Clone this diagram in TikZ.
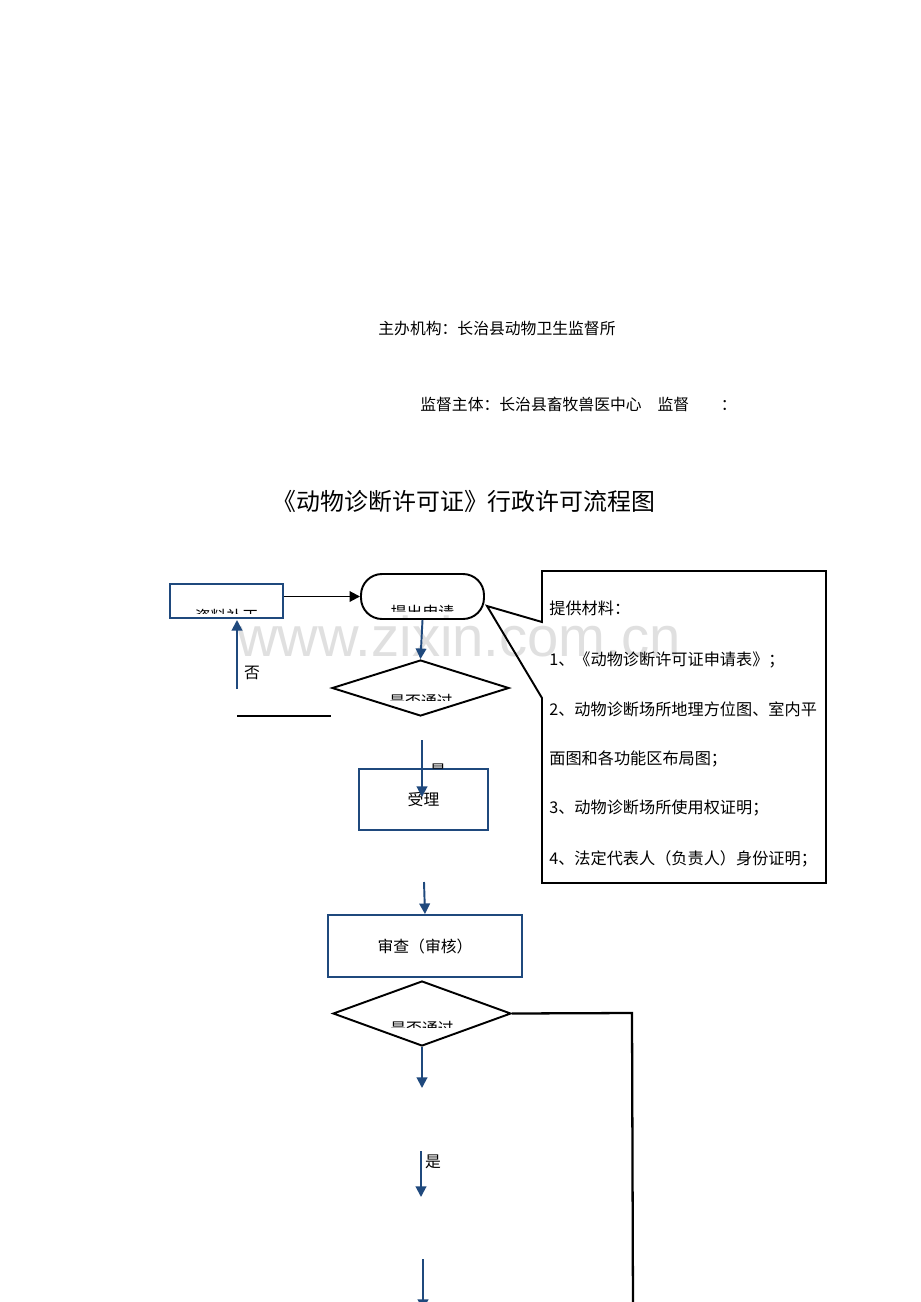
\documentclass[tikz,border=0pt]{standalone}
\usepackage{fontspec}
\setmainfont{Noto Sans CJK SC}
\newfontfamily\wmfont{Liberation Sans}
\usetikzlibrary{shapes.geometric,arrows.meta}
\definecolor{flowblue}{RGB}{31,73,125}
\definecolor{wmgray}{RGB}{224,224,224}
\tikzset{
  bluebox/.style={rectangle, draw=flowblue, line width=1.1pt, inner sep=0pt},
  decide/.style={diamond, draw, line width=1.1pt, inner sep=0pt},
  bluearrow/.style={draw=flowblue, line width=1.1pt, -{Triangle[length=6pt,width=6pt]}},
  blackarrow/.style={draw, line width=1.1pt, -{Triangle[length=6pt,width=6pt]}},
  txt/.style={font=\fontsize{9}{11}\selectfont, inner sep=0pt}
}
\begin{document}
\begin{tikzpicture}[x=0.02cm, y=-0.02cm]
  \useasboundingbox[fill=white] (0,0) rectangle (920,1302);
  % watermark
  \node (wm) at (459,636) [text=wmgray, font=\wmfont\fontsize{32}{32}\selectfont] {www.zixin.com.cn};
  \node (zb) at (497,329) [txt] {主办机构：长治县动物卫生监督所};
  \node (jd) at (420,404) [txt, anchor=west] {监督主体：长治县畜牧兽医中心\quad 监督\qquad ：};
  \node (title) at (464,501) [font=\fontsize{13.6}{16}\selectfont] {《动物诊断许可证》行政许可流程图};
  \node (zlbz) at (226.5,601) [bluebox, minimum width=2.26cm, minimum height=0.68cm] {};
  \node (tc) at (422.5,596.5) [draw, line width=1.1pt, rounded corners=0.42cm,
    minimum width=2.46cm, minimum height=0.9cm, inner sep=0pt] {};
  \node (dec1) at (420.5,688) [decide, minimum width=3.54cm, minimum height=1.12cm] {};
  \node (sl) at (423.5,799.5) [bluebox, minimum width=2.58cm, minimum height=1.22cm] {};
  \node (sc) at (425,946) [bluebox, minimum width=3.88cm, minimum height=1.24cm] {};
  \node (dec2) at (422,1013.5) [decide, minimum width=3.56cm, minimum height=1.3cm] {};
  \node at (sl) [txt] {受理};
  \node at (sc) [txt] {审查（审核）};
  % cut-off labels
  \begin{scope}
    \clip (172,586) rectangle (281,613);
    \node (zlbzt) at (226.5,616) [txt] {资料补正};
  \end{scope}
  \begin{scope}
    \clip (370,580) rectangle (475,611);
    \node (tct) at (422.5,612) [txt] {提出申请};
  \end{scope}
  \begin{scope}
    \clip (360,670) rectangle (480,700);
    \node (dec1t) at (421,702) [txt] {是否通过};
  \end{scope}
  \begin{scope}
    \clip (360,995) rectangle (480,1027);
    \node (dec2t) at (422,1029) [txt] {是否通过};
  \end{scope}
  \begin{scope}
    \clip (425,755) rectangle (455,768);
    \node (sa) at (438,771) [txt] {是};
  \end{scope}
  \draw[blackarrow] (zlbz.east |- tc.west) -- (tc.west);
  \draw[bluearrow] (tc.south) -- (dec1.north);
  \coordinate (nofrom) at (237,689);
  \draw[bluearrow] (nofrom) -- (237,620);
  \node (no) at (252,673) [txt] {否};
  \coordinate (nol) at (237,716);
  \draw[line width=1.1pt] (nol) -- (dec1.west |- nol);
  \coordinate (slin) at (422,740); \coordinate (slend) at (422,797);
  \draw[bluearrow] (slin) -- (slend);
  \coordinate (scin) at (424,882);
  \draw[bluearrow] (scin) -- (sc.north);
  \coordinate (a1) at (422,1088);
  \draw[bluearrow] (dec2.south) -- (a1);
  \coordinate (b0) at (421,1151); \coordinate (b1) at (421,1197);
  \draw[bluearrow] (b0) -- (b1);
  \node (sb) at (433,1162) [txt] {是};
  \coordinate (c0) at (423,1259); \coordinate (c1) at (423,1310);
  \draw[bluearrow] (c0) -- (c1);
  \coordinate (rc) at (632,1013); \coordinate (rd) at (633,1310);
  \draw[line width=1.3pt] (dec2.east) -- (rc) -- (rd);
  % materials callout
  \coordinate (tip) at (487,606);
  \draw[line width=1.1pt] (542,622) -- (tip) -- (542,698) -- (542,883)
    -- (826,883) -- (826,571) -- (542,571) -- cycle;
  \foreach \y/\t in {608/提供材料：, 660/1、《动物诊断许可证申请表》；,
    709/2、动物诊断场所地理方位图、室内平, 759/面图和各功能区布局图；,
    808/3、动物诊断场所使用权证明；, 859/4、法定代表人（负责人）身份证明；}
    \node[anchor=west, font=\fontsize{9.2}{11}\selectfont, inner sep=0pt] at (549,\y) {\t};
\end{tikzpicture}
\end{document}
